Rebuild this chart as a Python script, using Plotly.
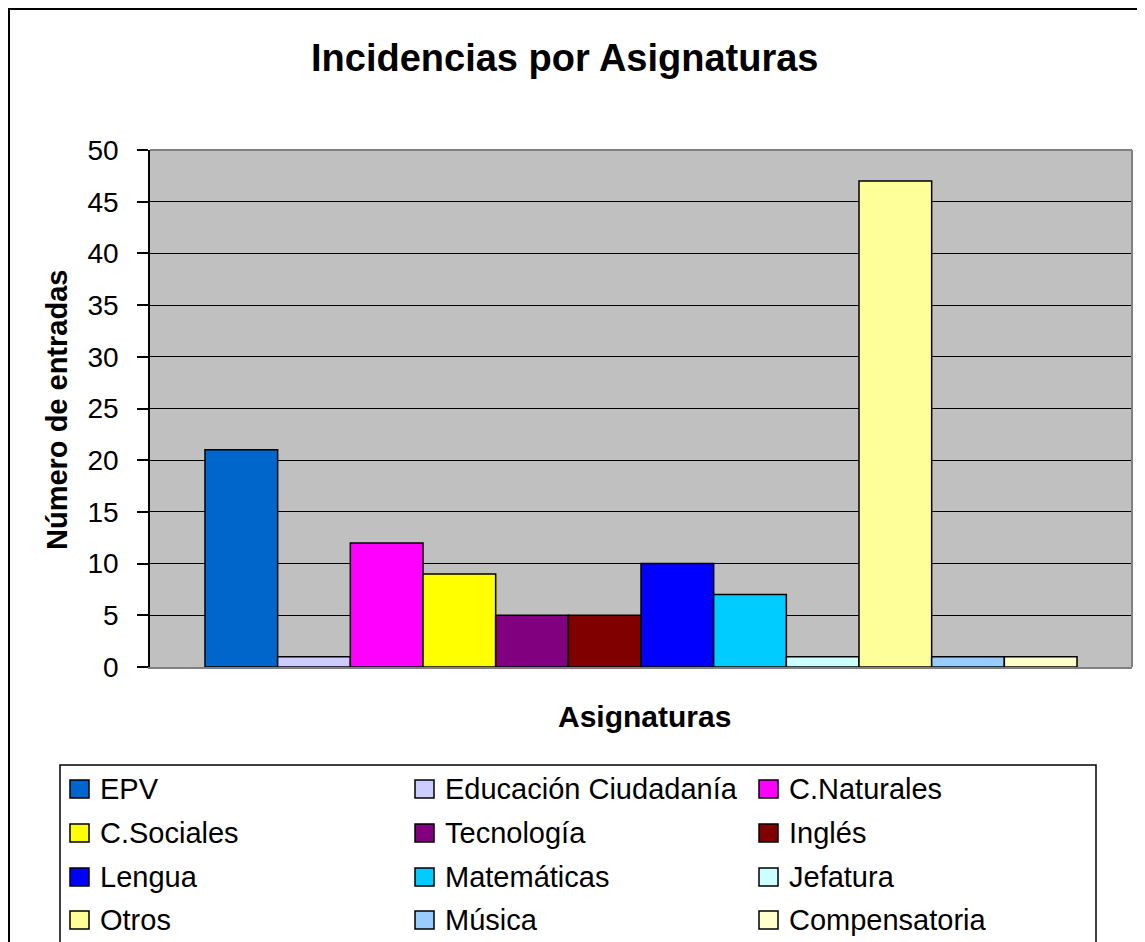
import plotly.graph_objects as go

# Datos de la gráfica
asignaturas = ['EPV', 'Educación Ciudadanía', 'C.Naturales', 'C.Sociales', 'Tecnología',
               'Inglés', 'Lengua', 'Matemáticas', 'Jefatura', 'Otros', 'Música', 'Compensatoria']
entradas = [21, 1, 12, 9, 5, 5, 10, 7, 1, 47, 1, 1]
colores = ['#0066CC', '#CCCCFF', '#FF00FF', '#FFFF00', '#800080', '#800000',
           '#0000FF', '#00CCFF', '#CCFFFF', '#FFFF99', '#99CCFF', '#FFFFCC']
y_ticks = [0, 5, 10, 15, 20, 25, 30, 35, 40, 45, 50]

W, H = 1145, 942
OFF = 8  # la página añade 8 px de margen
L, R, T, B = 150 - OFF, 1132 - OFF, 150 - OFF, 667 - OFF  # área de trazado
FONT = 'Liberation Sans, Arial, sans-serif'


def px(x):
    # coordenada de pantalla -> papel
    return (x - OFF - L) / (R - L)


def py(y):
    return (B - (y - OFF)) / (B - T)


fig = go.Figure()

for nombre, valor, color in zip(asignaturas, entradas, colores):
    fig.add_trace(go.Bar(x=['Asignaturas'], y=[valor], name=nombre,
                         marker=dict(color=color, line=dict(color='black', width=1.5)),
                         showlegend=False))

shapes = []
annotations = []

# marco exterior
shapes.append(dict(type='rect', xref='paper', yref='paper',
                   x0=px(9), x1=px(1170), y0=py(9), y1=py(1000),
                   line=dict(color='black', width=2), layer='above'))
# borde gris del área de trazado (arriba y derecha)
shapes.append(dict(type='line', xref='paper', yref='paper', x0=0, x1=1, y0=1, y1=1,
                   line=dict(color='#808080', width=2)))
shapes.append(dict(type='line', xref='paper', yref='paper', x0=1, x1=1, y0=0, y1=1,
                   line=dict(color='#808080', width=2)))

# leyenda manual en tres columnas
shapes.append(dict(type='rect', xref='paper', yref='paper',
                   x0=px(60), x1=px(1096), y0=py(765), y1=py(1010),
                   line=dict(color='black', width=1.5), fillcolor='white', layer='above'))
col_x = [70, 415, 759]
row_y = [789, 833, 877, 920]
for i, (nombre, color) in enumerate(zip(asignaturas, colores)):
    cx = col_x[i % 3]
    cy = row_y[i // 3]
    shapes.append(dict(type='rect', xref='paper', yref='paper',
                       x0=px(cx), x1=px(cx + 19), y0=py(cy - 9), y1=py(cy + 9),
                       fillcolor=color, line=dict(color='black', width=1.5), layer='above'))
    annotations.append(dict(text=nombre, xref='paper', yref='paper',
                            x=px(cx + 28), y=py(cy), xanchor='left', yanchor='middle',
                            showarrow=False, font=dict(family=FONT, size=29, color='black')))

# títulos
annotations.append(dict(text='<b>Incidencias por Asignaturas</b>', xref='paper', yref='paper',
                        x=px(565), y=py(58), xanchor='center', yanchor='middle',
                        showarrow=False, font=dict(family=FONT, size=38, color='black')))
annotations.append(dict(text='<b>Asignaturas</b>', xref='paper', yref='paper',
                        x=px(644), y=py(716), xanchor='center', yanchor='middle',
                        showarrow=False, font=dict(family=FONT, size=30, color='black')))
annotations.append(dict(text='<b>Número de entradas</b>', xref='paper', yref='paper',
                        x=px(57), y=py(410), xanchor='center', yanchor='middle', textangle=-90,
                        showarrow=False, font=dict(family=FONT, size=29, color='black')))

fig.update_layout(
    width=W, height=H,
    margin=dict(l=L, r=W - R, t=T, b=H - B),
    paper_bgcolor='white',
    plot_bgcolor='#C0C0C0',
    barmode='group',
    bargap=0.112,
    bargroupgap=0,
    shapes=shapes,
    annotations=annotations,
    font=dict(family=FONT, size=28, color='black'),
)
fig.update_xaxes(showticklabels=False, showgrid=False, zeroline=False,
                 showline=True, linecolor='#808080', linewidth=2, ticks='')
fig.update_yaxes(range=[0, 50], tickvals=y_ticks, showgrid=True, gridcolor='black', gridwidth=1,
                 zeroline=False, showline=True, linecolor='black', linewidth=1.5,
                 ticks='outside', ticklen=11, tickcolor='black', tickwidth=1.5,
                 ticklabelstandoff=13, tickfont=dict(family=FONT, size=28, color='black'))

fig.write_html('out.html')
